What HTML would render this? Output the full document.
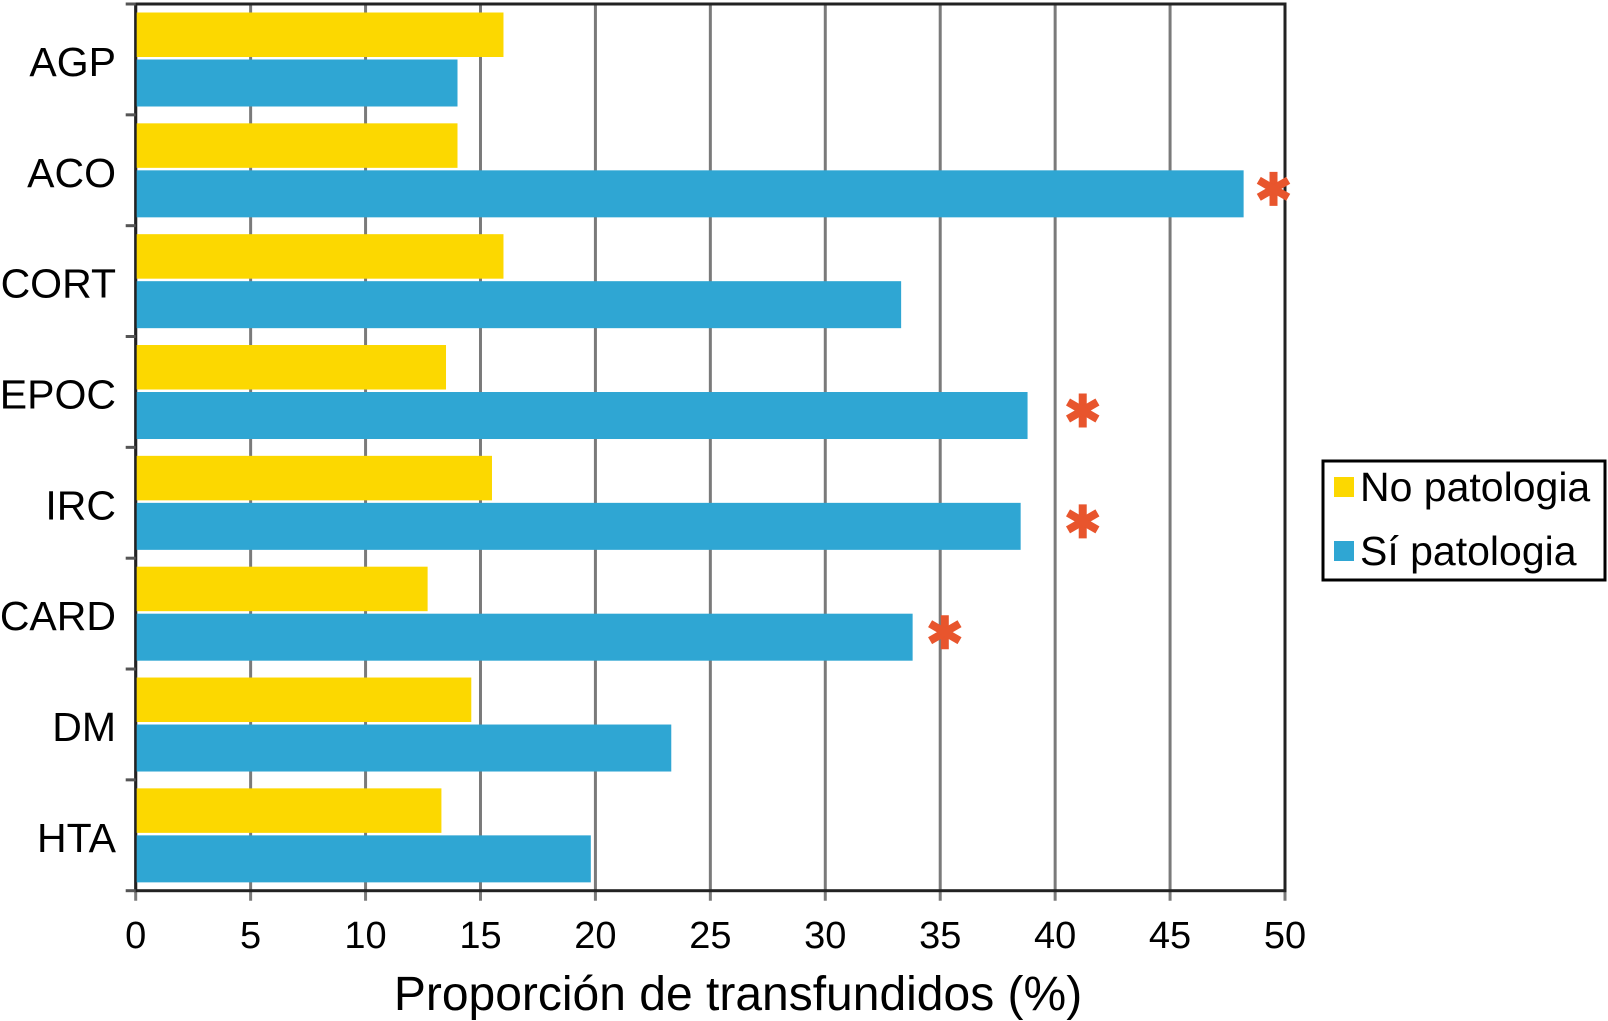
<!DOCTYPE html>
<html><head><meta charset="utf-8"><style>
html,body{margin:0;padding:0;background:#fff;}
svg{display:block;font-family:"Liberation Sans",Arial,sans-serif;}
</style></head><body>
<svg id="chart" width="1608" height="1021"></svg>
<script>
const categories = ["AGP","ACO","CORT","EPOC","IRC","CARD","DM","HTA"];
const noPatologia = [16.0,14.0,16.0,13.5,15.5,12.7,14.6,13.3];
const siPatologia = [14.0,48.2,33.3,38.8,38.5,33.8,23.3,19.8];
const significant = [false,true,false,true,true,true,false,false];
const asteriskAt = [0,49.5,0,41.2,41.2,35.2,0,0];
const xTicks = [0,5,10,15,20,25,30,35,40,45,50];

const NS = "http://www.w3.org/2000/svg";
const svg = document.getElementById("chart");
const X0 = 135.7, X1 = 1285, Y0 = 4, Y1 = 890.7;
const xMax = 50;
const band = (Y1 - Y0) / categories.length;
function xs(v){ return X0 + v / xMax * (X1 - X0); }
function bandTop(i){ return Y0 + i * band; }
function mk(tag, attrs){ const e = document.createElementNS(NS, tag); for (const k in attrs) e.setAttribute(k, attrs[k]); svg.appendChild(e); return e; }

xTicks.forEach(t => {
  const g = mk("line",{x1:xs(t),x2:xs(t),y1:Y0,y2:Y1+10,stroke:"#7a7a7a","stroke-width":3});
  
  
  const l = mk("text",{x:xs(t),y:948,"text-anchor":"middle","font-size":38,fill:"#000"});
  l.textContent = t;
  
  
});
const fr = mk("rect",{x:X0,y:Y0,width:X1-X0,height:Y1-Y0,fill:"none",stroke:"#222","stroke-width":3});


for (let i=0;i<=categories.length;i++){
  const tk = mk("line",{x1:X0-10,x2:X0,y1:bandTop(i),y2:bandTop(i),stroke:"#555","stroke-width":3});
  
  
}
categories.forEach((c,i) => {
  const top = bandTop(i);
  const y1 = mk("rect",{x:X0+1,y:top+8.5,width:xs(noPatologia[i])-X0-1,height:44.5,fill:"#fcd800"});
  
  
  const b1 = mk("rect",{x:X0+1,y:top+55.5,width:xs(siPatologia[i])-X0-1,height:47,fill:"#2fa6d3"});
  
  
  const lb = mk("text",{x:116,y:top+72,"text-anchor":"end","font-size":41,fill:"#000"});
  lb.textContent = c;
  
  
  if (significant[i]) {
    const cx = xs(asteriskAt[i]), cy = top + 74;
    const g = document.createElementNS(NS, "g");
    
    
    svg.appendChild(g);
    for (let k=0;k<3;k++){
      const a = Math.PI/2 + k*Math.PI/3;
      const ln = document.createElementNS(NS,"line");
      ln.setAttribute("x1", cx + 17*Math.cos(a)); ln.setAttribute("y1", cy + 17*Math.sin(a));
      ln.setAttribute("x2", cx - 17*Math.cos(a)); ln.setAttribute("y2", cy - 17*Math.sin(a));
      ln.setAttribute("stroke", "#e8552d"); ln.setAttribute("stroke-width", 8);
      g.appendChild(ln);
    }
  }
});
const title = mk("text",{x:738,y:1010,"text-anchor":"middle","font-size":48,fill:"#000"});
title.textContent = "Proporción de transfundidos (%)";



const lg = mk("rect",{x:1323,y:461,width:282,height:119,fill:"#fff",stroke:"#000","stroke-width":3});


[["No patologia","#fcd800",487],["Sí patologia","#2fa6d3",551]].forEach(([t,col,y]) => {
  const sq = mk("rect",{x:1334,y:y-10,width:20,height:20,fill:col});
  
  
  const tx = mk("text",{x:1360,y:y+14,"font-size":41,fill:"#000"});
  tx.textContent = t;
  
  
});
</script>
</body></html>
